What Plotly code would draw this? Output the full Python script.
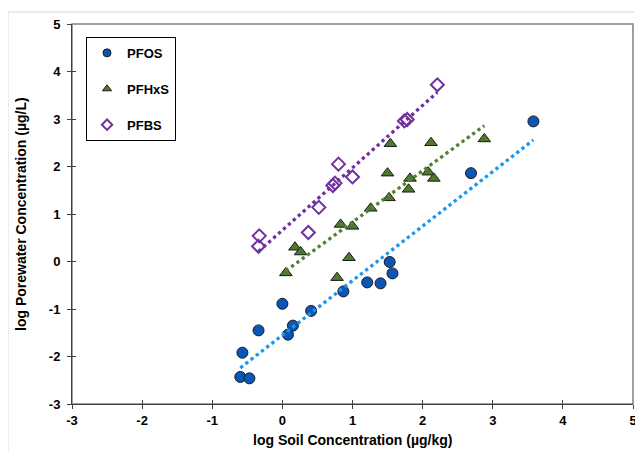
import numpy as np
import plotly.graph_objects as go

# ---- data (log soil conc µg/kg, log porewater conc µg/L) ----
pfos_x = [-0.60, -0.47, -0.57, -0.34, 0.00, 0.08, 0.15, 0.41, 0.87, 1.21, 1.40, 1.53, 1.57, 2.69, 3.58]
pfos_y = [-2.43, -2.46, -1.92, -1.45, -0.89, -1.54, -1.35, -1.04, -0.63, -0.44, -0.46, -0.01, -0.25, 1.86, 2.95]

pfhxs_x = [0.05, 0.18, 0.26, 0.78, 0.95, 0.83, 1.00, 1.26, 1.52, 1.50, 1.54, 1.80, 1.82, 2.08, 2.12, 2.16, 2.88]
pfhxs_y = [-0.24, 0.30, 0.20, -0.34, 0.08, 0.78, 0.74, 1.12, 1.34, 1.86, 2.48, 1.52, 1.75, 1.88, 2.50, 1.75, 2.58]

pfbs_x = [-0.33, -0.34, 0.37, 0.52, 0.72, 0.75, 0.80, 1.00, 1.74, 1.78, 2.21]
pfbs_y = [0.54, 0.32, 0.61, 1.14, 1.60, 1.65, 2.05, 1.78, 2.96, 2.99, 3.72]

series_names = ["PFOS", "PFHxS", "PFBS"]
x_ticks = [-3, -2, -1, 0, 1, 2, 3, 4, 5]
y_ticks = [-3, -2, -1, 0, 1, 2, 3, 4, 5]
x_title = "log Soil Concentration (µg/kg)"
y_title = "log Porewater Concentration (µg/L)"

FONT = "Liberation Sans, Arial, sans-serif"

styles = [
    dict(symbol="circle", color="#0A56B6", line=dict(color="#1a1a1a", width=1)),
    dict(symbol="triangle-up", color="#4E7A2E", line=dict(color="#1a1a1a", width=1)),
    dict(symbol="diamond-open", color="#7030A0", line=dict(color="#7030A0", width=2)),
]
sizes = [11, 11, 10]
trend_colors = ["#1798EE", "#548235", "#7030A0"]
xs_all = [pfos_x, pfhxs_x, pfbs_x]
ys_all = [pfos_y, pfhxs_y, pfbs_y]

fig = go.Figure()

# data markers
for name, xs, ys, st, sz in zip(series_names, xs_all, ys_all, styles, sizes):
    fig.add_trace(go.Scatter(x=xs, y=ys, mode="markers", name=name, showlegend=False,
                             legendgroup=name, marker=dict(size=sz, **st)))

# linear trendlines (least squares, like the spreadsheet trendlines)
def trend(xs, ys):
    m, b = np.polyfit(xs, ys, 1)
    x0, x1 = min(xs), max(xs)
    return [x0, x1], [m * x0 + b, m * x1 + b]

for xs, ys, col in zip(xs_all, ys_all, trend_colors):
    tx, ty = trend(xs, ys)
    fig.add_trace(go.Scatter(x=tx, y=ty, mode="lines", showlegend=False, hoverinfo="skip",
                             line=dict(color=col, width=3.3, dash="dot")))

# legend entries with smaller symbols (as in the reference legend)
for name, st in zip(series_names, styles):
    fig.add_trace(go.Scatter(x=[None], y=[None], mode="markers", name="<b>%s</b>" % name,
                             legendgroup=name, marker=dict(size=8, **st)))

# invisible trace to anchor overlay axes (for crossing ticks)
fig.add_trace(go.Scatter(x=[None], y=[None], xaxis="x2", yaxis="y2", showlegend=False))

tickfont = dict(family=FONT, size=13, color="#000000")
x_text = ["<b>%d</b>" % v for v in x_ticks]
y_text = ["<b>%d</b>" % v for v in y_ticks]

fig.update_layout(
    width=635, height=443,
    margin=dict(l=64, r=10, t=16, b=47, autoexpand=False),
    paper_bgcolor="white", plot_bgcolor="white",
    font=dict(family=FONT, color="#000000"),
    showlegend=True,
    legend=dict(x=0.025, y=0.966, xanchor="left", yanchor="top",
                bgcolor="white", bordercolor="#000000", borderwidth=1,
                font=dict(family=FONT, size=13, color="#000000"),
                tracegroupgap=16, itemwidth=30),
    xaxis=dict(range=[-3, 5], tickvals=x_ticks, ticktext=x_text, ticks="outside", ticklen=4,
               tickcolor="#404040", showline=True, linecolor="#404040", linewidth=1,
               showgrid=False, zeroline=False, tickfont=tickfont, automargin=False),
    yaxis=dict(range=[-3, 5], tickvals=y_ticks, ticktext=y_text, ticks="outside", ticklen=4,
               tickcolor="#404040", showline=True, linecolor="#404040", linewidth=1,
               showgrid=False, zeroline=False, tickfont=tickfont, automargin=False,
               ticklabelstandoff=4),
    xaxis2=dict(range=[-3, 5], tickvals=x_ticks, overlaying="x", anchor="y", side="bottom",
                ticks="inside", ticklen=4, tickcolor="#404040", showticklabels=False,
                showline=False, showgrid=False, zeroline=False, automargin=False),
    yaxis2=dict(range=[-3, 5], tickvals=y_ticks, overlaying="y", anchor="x", side="left",
                ticks="inside", ticklen=4, tickcolor="#404040", showticklabels=False,
                showline=False, showgrid=False, zeroline=False, automargin=False),
    annotations=[
        dict(text="<b>%s</b>" % x_title, xref="paper", yref="paper", x=0.5, y=-0.0947,
             xanchor="center", yanchor="middle", showarrow=False,
             font=dict(family=FONT, size=14, color="#000000")),
        dict(text="<b>%s</b>" % y_title, xref="paper", yref="paper", x=-0.0909, y=0.5,
             xanchor="center", yanchor="middle", showarrow=False, textangle=-90,
             font=dict(family=FONT, size=14, color="#000000")),
    ],
    shapes=[
        dict(type="rect", xref="paper", yref="paper", x0=-0.1141, y0=-0.2, x1=1.2, y1=1.0316,
             line=dict(color="#D9D9D9", width=1), layer="below"),
        dict(type="rect", xref="paper", yref="paper", x0=0, y0=0, x1=1, y1=1,
             line=dict(color="#808080", width=1.5), layer="below"),
    ],
)

fig.write_html("out.html")
